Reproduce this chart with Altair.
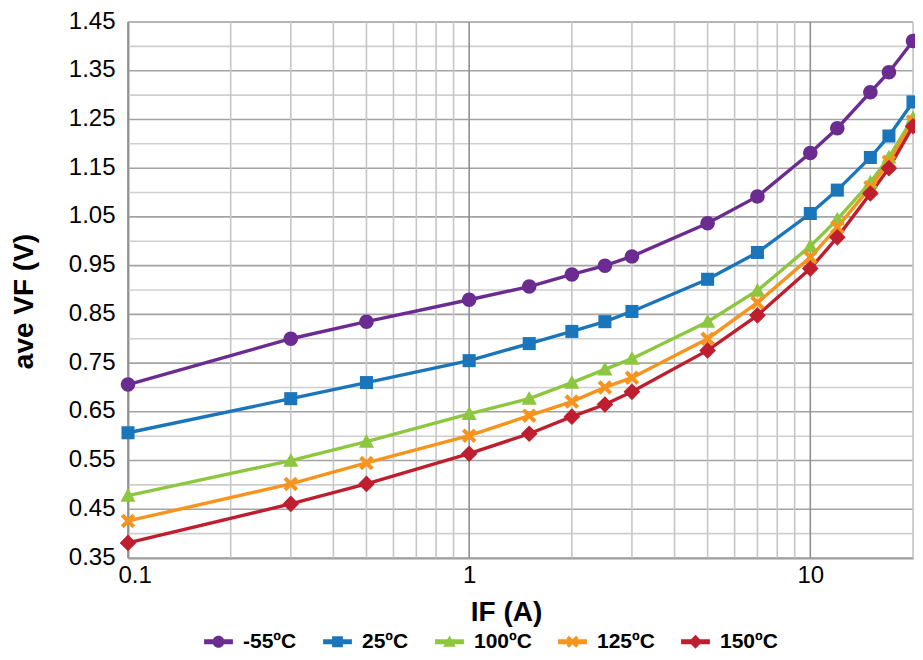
import altair as alt
import pandas as pd

# ---- data ----
IF_A = [0.1, 0.3, 0.5, 1, 1.5, 2, 2.5, 3, 5, 7, 10, 12, 15, 17, 20]
series = ["-55ºC", "25ºC", "100ºC", "125ºC", "150ºC"]
vf_m55 = [0.706, 0.800, 0.835, 0.880, 0.907, 0.932, 0.950, 0.969, 1.037, 1.092, 1.181, 1.232, 1.306, 1.347, 1.411]
vf_25 = [0.607, 0.677, 0.710, 0.755, 0.790, 0.815, 0.835, 0.856, 0.922, 0.977, 1.057, 1.105, 1.172, 1.216, 1.286]
vf_100 = [0.478, 0.550, 0.589, 0.646, 0.677, 0.710, 0.737, 0.759, 0.835, 0.899, 0.990, 1.045, 1.121, 1.172, 1.253]
vf_125 = [0.426, 0.502, 0.545, 0.601, 0.642, 0.671, 0.700, 0.720, 0.800, 0.874, 0.967, 1.029, 1.111, 1.163, 1.246]
vf_150 = [0.381, 0.461, 0.502, 0.564, 0.605, 0.640, 0.665, 0.691, 0.776, 0.848, 0.944, 1.008, 1.098, 1.150, 1.236]
colors = ["#6a2c91", "#1b75bb", "#8dc63f", "#f7941d", "#be1e2d"]

y_labels = [0.35, 0.45, 0.55, 0.65, 0.75, 0.85, 0.95, 1.05, 1.15, 1.25, 1.35, 1.45]
y_minor = [0.40, 0.50, 0.60, 0.70, 0.80, 0.90, 1.00, 1.10, 1.20, 1.30, 1.40]
x_major = [0.1, 1, 10]
x_minor = [0.2, 0.3, 0.4, 0.5, 0.6, 0.7, 0.8, 0.9, 2, 3, 4, 5, 6, 7, 8, 9, 20]

# marker shapes (custom SVG paths in unit box)
circle = "M1,0A1,1,0,1,1,-1,0A1,1,0,1,1,1,0Z"
square = "M-0.9,-0.9H0.9V0.9H-0.9Z"
tri = "M0,-1.05L1.05,0.85L-1.05,0.85Z"
xmark = "M-1,-0.6L-0.6,-1L0,-0.4L0.6,-1L1,-0.6L0.4,0L1,0.6L0.6,1L0,0.4L-0.6,1L-1,0.6L-0.4,0Z"
diamond = "M0,-1.15L1.15,0L0,1.15L-1.15,0Z"
markers = [circle, square, tri, xmark, diamond]
bar = "M-2.4,-0.42H2.4V0.42H-2.4Z"
legend_shapes = [bar + m for m in markers]

values = [vf_m55, vf_25, vf_100, vf_125, vf_150]
rows = []
for s, vals in zip(series, values):
    for x, v in zip(IF_A, vals):
        rows.append({"IF": x, "VF": v, "series": s})
df = pd.DataFrame(rows)

xscale = alt.Scale(type="log", domain=[0.1, 20], nice=False)
yscale = alt.Scale(domain=[0.35, 1.45], nice=False, zero=False)
cscale = alt.Scale(domain=series, range=colors)

xaxis = alt.Axis(
    values=x_major, format="~g", title="IF (A)", grid=False, ticks=False,
    labelFont="Liberation Sans", labelFontSize=24, labelColor="black", labelPadding=5,
    labelFlush=True, labelFlushOffset=10,
    titleFont="Liberation Sans", titleFontSize=28, titleFontWeight="bold", titleColor="black",
    titleX=378, titleY=54, titleBaseline="middle",
    domainColor="#9a9a9a", domainWidth=2)
yaxis = alt.Axis(
    values=y_labels, format=".2f", title="ave VF (V)", grid=False, ticks=False,
    labelFont="Liberation Sans", labelFontSize=24, labelColor="black", labelPadding=13,
    labelOffset=-1,
    titleFont="Liberation Sans", titleFontSize=28, titleFontWeight="bold", titleColor="black",
    titleX=-104, titleY=279, titleBaseline="middle", titleAngle=-90,
    domainColor="#9a9a9a", domainWidth=2)
leg = alt.Legend(
    title=None, orient="none", direction="horizontal", legendX=80, legendY=609,
    labelFont="Liberation Sans", labelFontSize=21, labelFontWeight="bold", labelColor="black",
    labelOffset=14, columnPadding=26, symbolSize=144, symbolStrokeWidth=0, padding=0,
    labelBaseline="middle")

X = lambda f: alt.X(f, scale=xscale, axis=xaxis)
Y = lambda f: alt.Y(f, scale=yscale, axis=yaxis)
C = alt.Color("series:N", scale=cscale, legend=leg)

ymin_rules = alt.Chart(pd.DataFrame({"v": y_minor})).mark_rule(
    color="#cfcfcf", strokeWidth=1.6).encode(y=Y("v:Q"))
ymaj_rules = alt.Chart(pd.DataFrame({"v": y_labels})).mark_rule(
    color="#a3a3a3", strokeWidth=1.6).encode(y=Y("v:Q"))
xmin_rules = alt.Chart(pd.DataFrame({"v": x_minor})).mark_rule(
    color="#c6c6c6", strokeWidth=1.6).encode(x=X("v:Q"))
xmaj_rules = alt.Chart(pd.DataFrame({"v": x_major})).mark_rule(
    color="#909090", strokeWidth=1.6).encode(x=X("v:Q"))

lines = alt.Chart(df).mark_line(strokeWidth=3.4).encode(
    x=X("IF:Q"), y=Y("VF:Q"), color=C, detail="series:N")

marker_layers = []
for s, m in zip(series, markers):
    marker_layers.append(
        alt.Chart(df).transform_filter(alt.datum.series == s).mark_point(
            shape=m, filled=True, size=210, opacity=1, strokeWidth=0).encode(
            x=X("IF:Q"), y=Y("VF:Q"), color=C)
    )

legend_layer = alt.Chart(df).mark_point(
    filled=True, size=144, opacity=0).encode(
    x=X("IF:Q"), y=Y("VF:Q"), color=C,
    shape=alt.Shape("series:N", scale=alt.Scale(domain=series, range=legend_shapes), legend=leg),
)

chart = alt.layer(
    ymin_rules, ymaj_rules, xmin_rules, xmaj_rules, lines, *marker_layers, legend_layer
).properties(
    width=785, height=536,
    autosize=alt.AutoSizeParams(type="none"),
    padding={"left": 120, "top": 14, "right": 2, "bottom": 94},
).configure_view(stroke="#c0c0c0", strokeWidth=1.6).configure(background="white"
).configure_legend(symbolOpacity=1)

chart.save("out.html", embed_options={"renderer": "svg", "actions": False})
